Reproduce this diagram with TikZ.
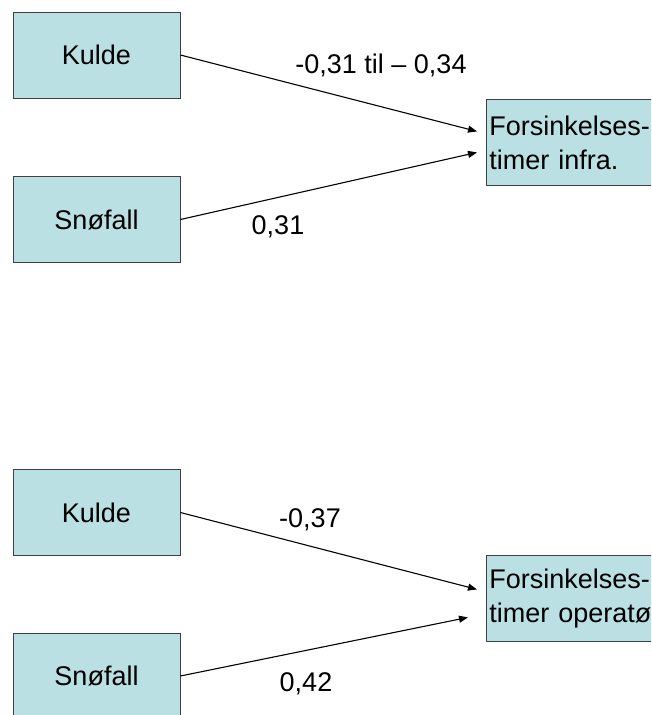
\documentclass[tikz,border=0pt]{standalone}
\usepackage{fontspec}
\setmainfont{Liberation Sans}
\usetikzlibrary{arrows.meta}
\definecolor{boxfill}{HTML}{BBE0E3}
\begin{document}
\begin{tikzpicture}
  [
    x = 1pt, y = -1pt,
    every node/.style = {font = \fontsize{27}{34}\selectfont},
    box/.style = {draw = black!75, line width = 0.8pt, fill = boxfill, rectangle, minimum width = 167pt, minimum height = 86pt, inner sep = 0pt},
    outbox/.style = {box, anchor = north west, minimum width = 196pt, text width = 190pt, align = left, inner xsep = 3pt},
    lab/.style = {anchor = base, inner sep = 0pt},
    arr/.style = {-{Triangle[length = 9pt, width = 7pt]}, line width = 1.1pt}
  ]
    \clip (0,0) rectangle (651,715);
    % upper diagram
    \node (kuldeA) [box] at (96.5,55) {Kulde};
    \node (snoA) [box] at (96.5,219.5) {Snøfall};
    \node (infra) [outbox] at (486,99) {Forsinkelses-\\timer infra.};
    \coordinate (tipA1) at ([xshift = -9pt, yshift = 11pt]infra.west);
    \coordinate (tipA2) at ([xshift = -9pt, yshift = -10pt]infra.west);
    \draw [arr] (kuldeA.east) -- (tipA1);
    \draw [arr] (snoA.east) -- (tipA2);
    \node (labA1) [lab] at (381,73) {-0,31 til – 0,34};
    \node (labA2) [lab] at (278,234) {0,31};
    % lower diagram
    \node (kuldeB) [box] at (96.5,512.5) {Kulde};
    \node (snoB) [box] at (96.5,676) {Snøfall};
    \node (oper) [outbox] at (486,555) {Forsinkelses-\\timer operatør};
    \coordinate (tipB1) at ([xshift = -9pt, yshift = 9pt]oper.west);
    \coordinate (tipB2) at ([xshift = -18pt, yshift = -19pt]oper.west);
    \draw [arr] (kuldeB.east) -- (tipB1);
    \draw [arr] (snoB.east) -- (tipB2);
    \node (labB1) [lab] at (310,527) {-0,37};
    \node (labB2) [lab] at (306,691) {0,42};
\end{tikzpicture}
\end{document}
